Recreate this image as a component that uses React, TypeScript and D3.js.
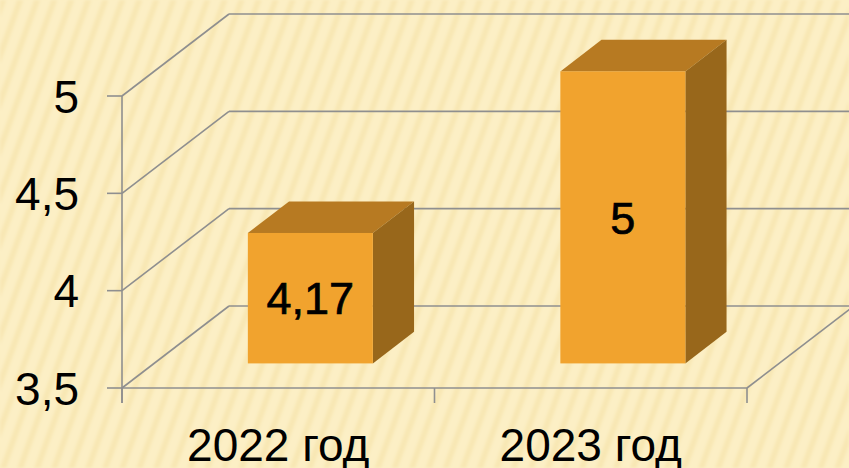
import React from "react";
import * as d3 from "d3";

const categories = ["2022 год", "2023 год"];
const values = [4.17, 5];
const valueLabels = ["4,17", "5"];
const yTicks = [3.5, 4, 4.5, 5];
const yTickLabels = ["3,5", "4", "4,5", "5"];

const W = 849;
const H = 468;

export default function App() {
  const x0 = 122;
  const x1 = 747;
  const yBottom = 388;
  const yTop = 96;
  const depthX = 107;
  const depthY = -82;
  const y = d3.scaleLinear().domain([3.5, 5]).range([yBottom, yTop]);
  const x = d3.scaleBand().domain(categories).range([x0, x1]).paddingInner(0).paddingOuter(0);
  const barW = 125;
  const dFront = 0.3;
  const dBack = 0.685;
  const grid = "#8f8f8f";
  const font = "'Liberation Sans', Arial, sans-serif";

  return (
    <svg width={W} height={H} style={{ position: "absolute", left: 0, top: 0, display: "block" }}>
      <defs>
        <pattern id="bgp" width="16" height="40" patternUnits="userSpaceOnUse" patternTransform="rotate(20)">
          <rect width="16" height="40" fill="#fcefc5" />
          <rect x="0" width="6" height="40" fill="#f6e4ae" opacity="0.75" />
        </pattern>
        <filter id="blur" x="0" y="0" width="1" height="1">
          <feGaussianBlur stdDeviation="1.5" />
        </filter>
      </defs>
      <rect width={W} height={H} fill="#fcefc5" />
      <rect width={W} height={H} fill="url(#bgp)" filter="url(#blur)" />

      {/* back wall gridlines and left side wall diagonals */}
      {yTicks.map((t, i) => (
        <g key={"g" + i}>
          <line x1={x0} y1={y(t)} x2={x0 + depthX} y2={y(t) + depthY} stroke={grid} strokeWidth={1.6} />
          <line x1={x0 + depthX} y1={y(t) + depthY} x2={W} y2={y(t) + depthY} stroke={grid} strokeWidth={1.6} />
        </g>
      ))}
      {/* floor */}
      <line x1={x0} y1={yBottom} x2={x1} y2={yBottom} stroke={grid} strokeWidth={1.6} />
      <line x1={x1} y1={yBottom} x2={x1 + depthX} y2={yBottom + depthY} stroke={grid} strokeWidth={1.6} />
      {/* value axis */}
      <line x1={x0} y1={yTop} x2={x0} y2={yBottom + 15} stroke={grid} strokeWidth={1.6} />
      {yTicks.map((t, i) => (
        <g key={"t" + i}>
          <line x1={x0 - 15} y1={y(t)} x2={x0} y2={y(t)} stroke={grid} strokeWidth={1.6} />
          <text x={79} y={y(t)} dy="0.36em" textAnchor="end" fontFamily={font} fontSize={46} fill="#000">
            {yTickLabels[i]}
          </text>
        </g>
      ))}
      {[x0, x0 + x.bandwidth(), x1].map((tx, i) => (
        <line key={"c" + i} x1={tx} y1={yBottom} x2={tx} y2={yBottom + 15} stroke={grid} strokeWidth={1.6} />
      ))}

      {/* bars */}
      {categories.map((c, i) => {
        const cx = (x(c) as number) + x.bandwidth() / 2;
        const fx = cx - barW / 2 + depthX * dFront;
        const ox = depthX * (dBack - dFront);
        const oy = depthY * (dBack - dFront);
        const fyTop = y(values[i]) + depthY * dFront;
        const fyBot = y(3.5) + depthY * dFront;
        return (
          <g key={"b" + i}>
            <polygon
              points={`${fx},${fyTop} ${fx + ox},${fyTop + oy} ${fx + barW + ox},${fyTop + oy} ${fx + barW},${fyTop}`}
              fill="#b77a22"
            />
            <polygon
              points={`${fx + barW},${fyTop} ${fx + barW + ox},${fyTop + oy} ${fx + barW + ox},${fyBot + oy} ${fx + barW},${fyBot}`}
              fill="#98671b"
            />
            <rect x={fx} y={fyTop} width={barW} height={fyBot - fyTop} fill="#f1a32e" />
            <text
              x={fx + barW / 2}
              y={(fyTop + fyBot) / 2}
              dy="0.36em"
              textAnchor="middle"
              fontFamily={font}
              fontSize={45}
              fill="#000"
              stroke="#000"
              strokeWidth={0.7}
            >
              {valueLabels[i]}
            </text>
            <text x={cx} y={461} textAnchor="middle" fontFamily={font} fontSize={46} fill="#000">
              {c}
            </text>
          </g>
        );
      })}
    </svg>
  );
}
